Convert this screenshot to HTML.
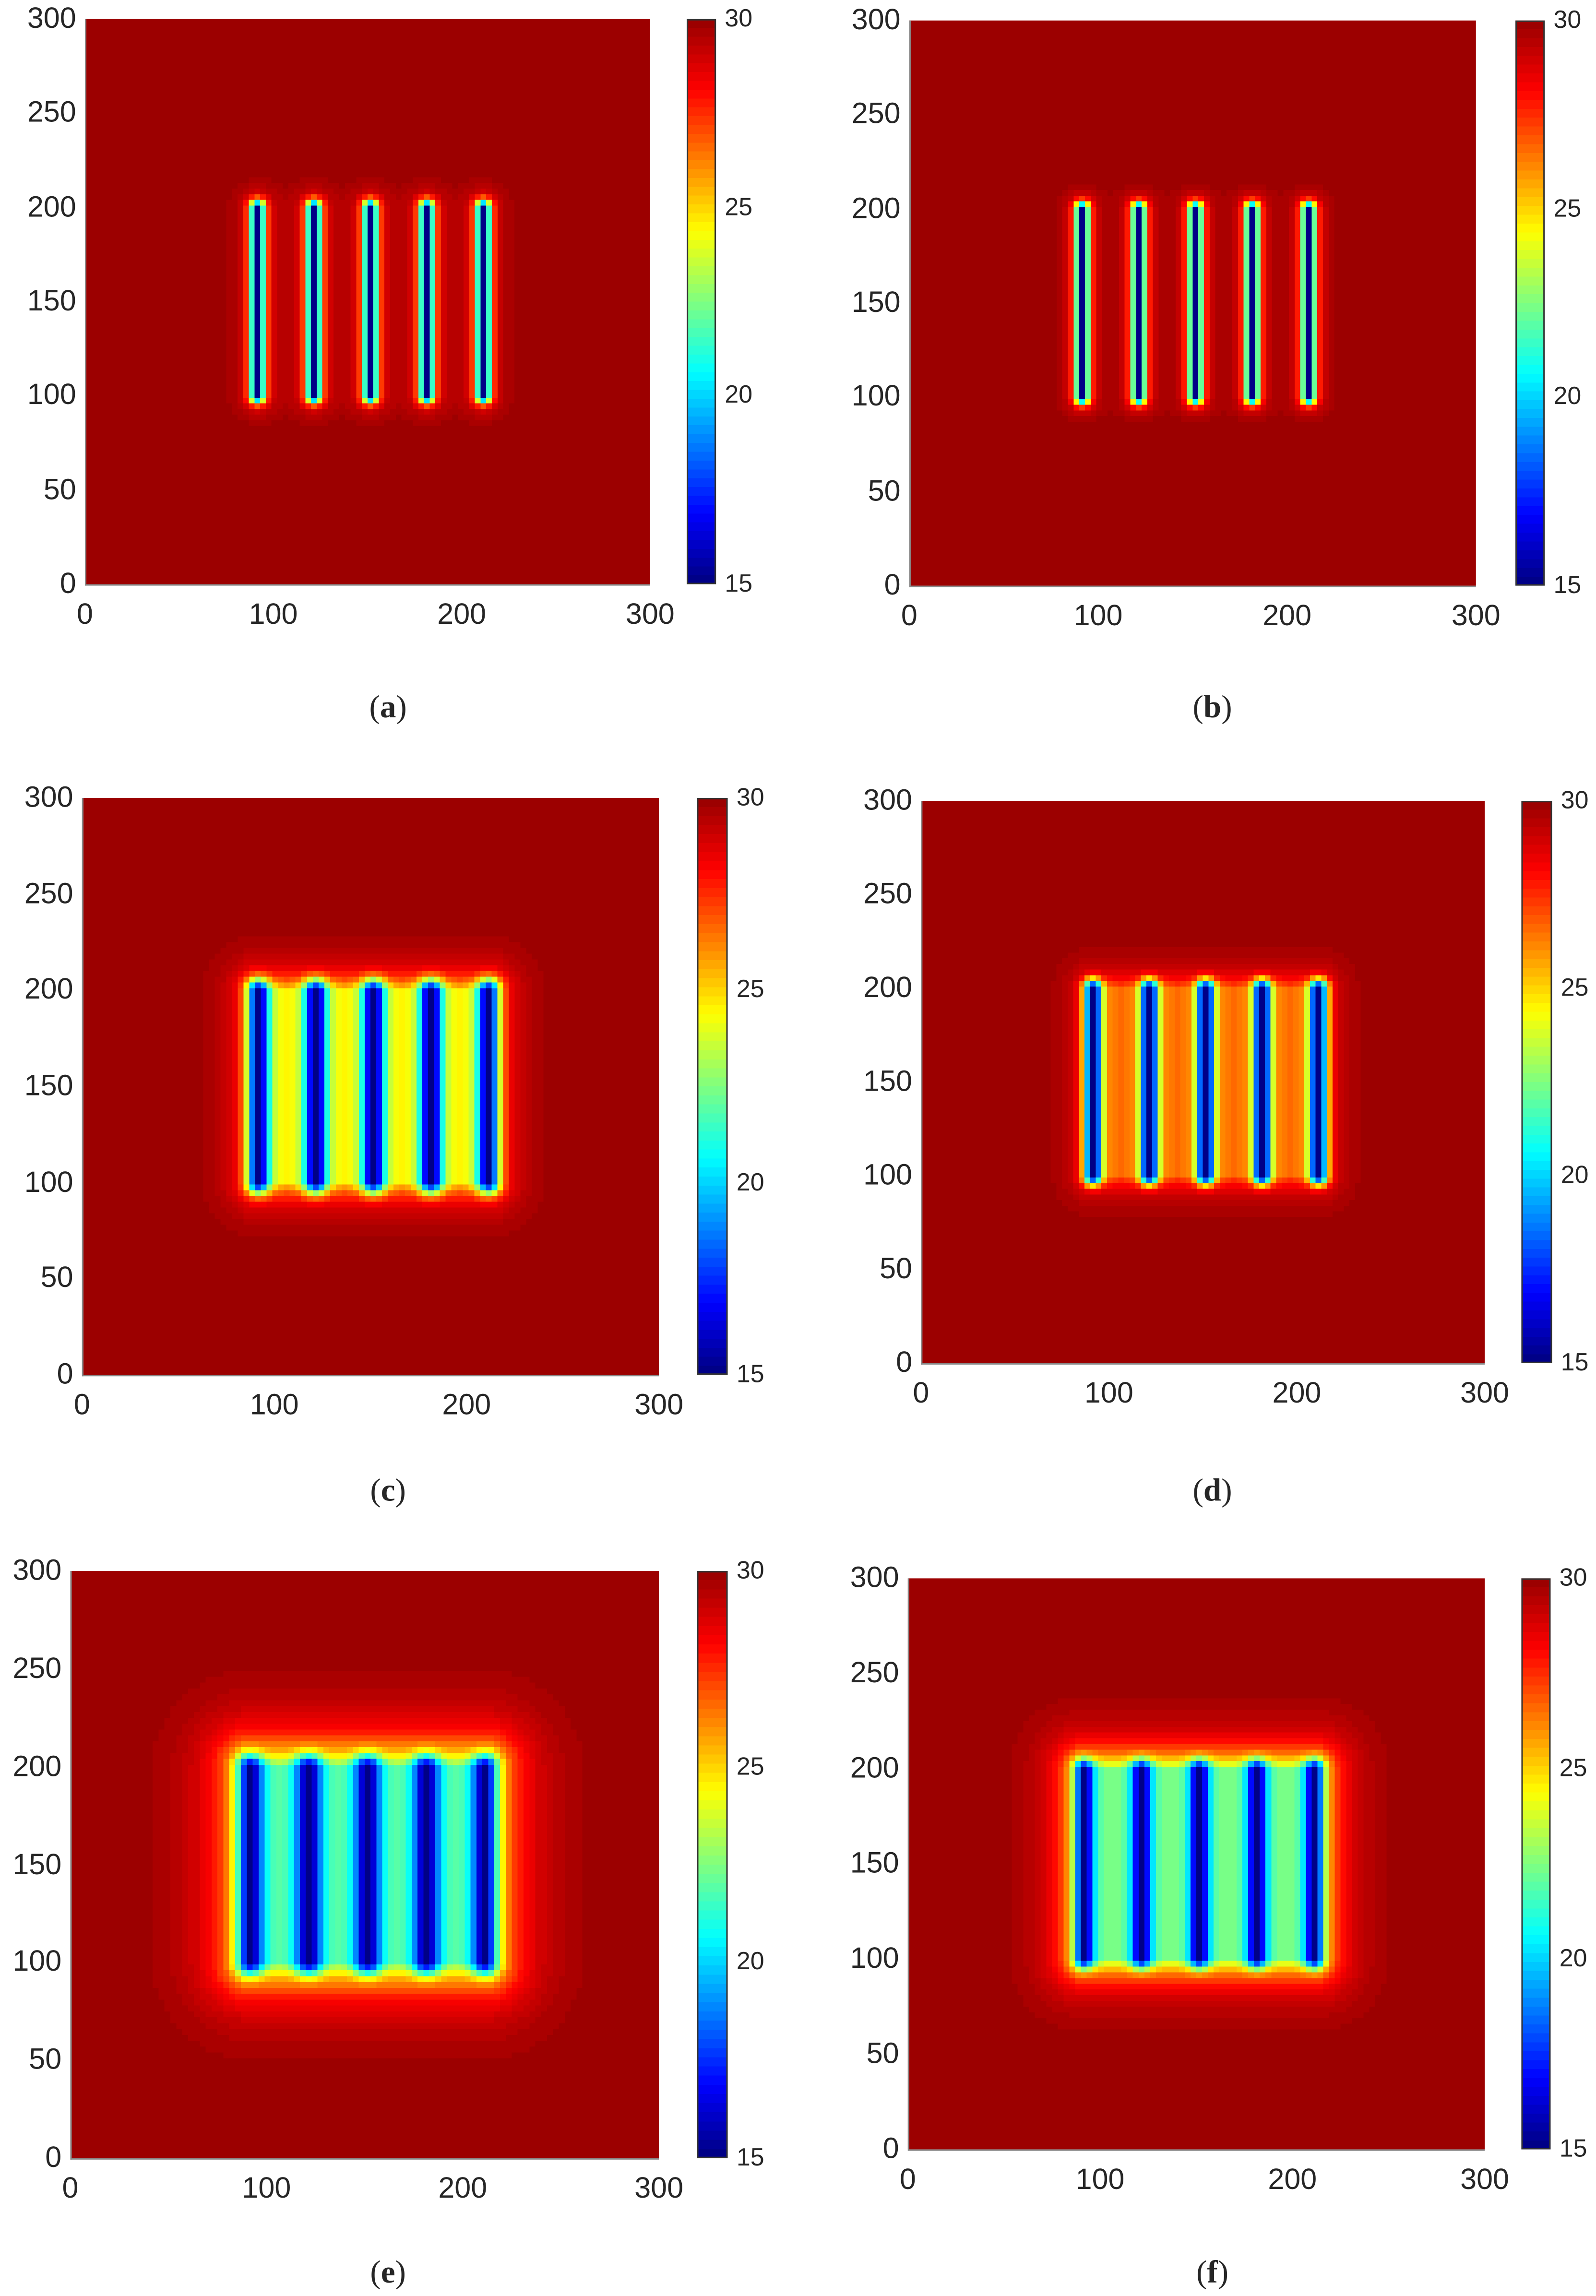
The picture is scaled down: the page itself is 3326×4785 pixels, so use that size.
<!DOCTYPE html>
<html><head><meta charset="utf-8">
<style>
html,body{margin:0;padding:0;background:#fff;}
body{width:3326px;height:4783px;overflow:hidden;position:relative;}
#wrap{position:absolute;left:0;top:0;width:1090px;height:1568px;transform:scale(3.05138);transform-origin:0 0;font-family:"Liberation Sans",Arial,sans-serif;color:#262626;}
canvas{position:absolute;image-rendering:pixelated;image-rendering:crisp-edges;}
.t{position:absolute;font-size:20px;line-height:20px;white-space:nowrap;}
.cb{position:absolute;font-size:17px;line-height:17px;white-space:nowrap;}
.cap{position:absolute;font-family:"Liberation Serif",serif;font-size:22px;line-height:22px;transform:translateX(-50%);}
.ax{position:absolute;border-left:1px solid #888;border-bottom:1px solid #888;box-sizing:border-box;pointer-events:none;}
.cbb{position:absolute;border:1px solid #333;box-sizing:border-box;pointer-events:none;}
</style></head>
<body>
<div id="wrap"></div>
<script>
// ---- data ----
const sourceX = [90, 120, 150, 180, 210];      // line source x positions
const sourceY = [100, 200];                    // line source y extent
const panelIds = ['a','b','c','d','e','f'];
const coreDepth = [10, 10, 9.5, 11.5, 7, 7.5];       // drop from each line core
const coreWidth = [4, 3.8, 6, 5, 6.8, 5.5];          // core gaussian width
const haloDepth = [5, 5, 0, 0, 0, 0];                // per-line halo drop
const haloWidth = [5, 4.5, 1, 1, 1, 1];              // per-line halo decay
const blockDepth = [0, 0, 5.5, 3.5, 8, 7.5];         // drop over source block
const blockWidth = [4, 4, 9, 8, 14, 11];             // block halo decay
const baseValue = 30;
const cRange = [15, 30];
const axisTicks = [0, 50, 100, 150, 200, 250, 300];
const xTickLabels = [0, 100, 200, 300];
const cbTicks = [15, 20, 25, 30];
const gridN = 100;
const domain = 300;
// layout (figure units)
const layout = [
 {x0:58,x1:444,y0:13,y1:399,c0:469,c1:489,lx:265,ly:483},
 {x0:621,x1:1008,y0:14,y1:400,c0:1035,c1:1055,lx:828,ly:483},
 {x0:56,x1:450,y0:545,y1:939,c0:476,c1:497,lx:265,ly:1018},
 {x0:629,x1:1014,y0:547,y1:931,c0:1039,c1:1060,lx:828,ly:1018},
 {x0:48,x1:450,y0:1073,y1:1474,c0:476,c1:497,lx:265,ly:1552},
 {x0:620,x1:1014,y0:1078,y1:1468,c0:1039,c1:1059,lx:828,ly:1552}
];

function jet(t){
  const n=64; let k=Math.max(0,Math.min(n-1,Math.floor(t*n))); let v=(k+0.5)/n;
  const f=x=>Math.max(0,Math.min(1,x));
  let r=f(Math.min(4*v-1.5,-4*v+4.5));
  if(v>0.875) r=1-(v-0.875)*3.3;
  const g=f(Math.min(4*v-0.5,-4*v+3.5)), b=f(Math.min(4*v+0.5,-4*v+2.5));
  return [Math.round(r*255),Math.round(g*255),Math.round(b*255)];
}
function field(x,y,i){
  let s=0;
  const cy=Math.max(sourceY[0],Math.min(sourceY[1],y));
  for(const sx of sourceX){
    const d=Math.hypot(x-sx,y-cy);
    s+=coreDepth[i]*Math.exp(-Math.pow(d/coreWidth[i],2));
    s+=haloDepth[i]*Math.exp(-d/haloWidth[i]);
  }
  if(blockDepth[i]>0){
    const xmin=sourceX[0], xmax=sourceX[sourceX.length-1];
    const dx=Math.max(0,xmin-x,x-xmax), dy=Math.max(0,sourceY[0]-y,y-sourceY[1]);
    s+=blockDepth[i]*Math.exp(-Math.hypot(dx,dy)/blockWidth[i]);
  }
  return Math.max(cRange[0],baseValue-s);
}
const wrap=document.getElementById('wrap');
layout.forEach((L,i)=>{
  const pw=L.x1-L.x0, ph=L.y1-L.y0;
  const xs=v=>L.x0+v/domain*pw, ys=v=>L.y1-v/domain*ph;
  const cv=document.createElement('canvas');
  
  
  cv.width=gridN;cv.height=gridN;
  cv.style.left=L.x0+'px';cv.style.top=L.y0+'px';cv.style.width=pw+'px';cv.style.height=ph+'px';
  const ctx=cv.getContext('2d');const img=ctx.createImageData(gridN,gridN);
  for(let r=0;r<gridN;r++)for(let c=0;c<gridN;c++){
    const x=c*domain/gridN, y=domain-(r+0.5)*domain/gridN;
    const v=field(x,y,i);
    const col=jet((v-cRange[0])/(cRange[1]-cRange[0]));
    const o=(r*gridN+c)*4;img.data[o]=col[0];img.data[o+1]=col[1];img.data[o+2]=col[2];img.data[o+3]=255;
  }
  ctx.putImageData(img,0,0);wrap.appendChild(cv);
  const ax=document.createElement('div');ax.className='ax';
  
  
  ax.style.cssText+=`left:${L.x0}px;top:${L.y0}px;width:${pw}px;height:${ph+1}px;`;wrap.appendChild(ax);
  axisTicks.forEach(t=>{
    const d=document.createElement('div');d.className='t';
    
    
    d.textContent=t;d.style.right=(1090-L.x0+6)+'px';d.style.top=(ys(t)-10)+'px';wrap.appendChild(d);
  });
  xTickLabels.forEach(t=>{
    const d=document.createElement('div');d.className='t';
    
    
    d.textContent=t;d.style.left=xs(t)+'px';d.style.top=(L.y1+11)+'px';d.style.transform='translateX(-50%)';wrap.appendChild(d);
  });
  const cb=document.createElement('canvas');
  
  
  cb.width=1;cb.height=64;const cc=cb.getContext('2d');
  for(let k=0;k<64;k++){const col=jet((63-k+0.5)/64);cc.fillStyle=`rgb(${col})`;cc.fillRect(0,k,1,1);}
  cb.style.left=L.c0+'px';cb.style.top=L.y0+'px';cb.style.width=(L.c1-L.c0)+'px';cb.style.height=ph+'px';wrap.appendChild(cb);
  const cbb=document.createElement('div');cbb.className='cbb';
  
  
  cbb.style.cssText+=`left:${L.c0}px;top:${L.y0}px;width:${L.c1-L.c0}px;height:${ph}px;`;wrap.appendChild(cbb);
  cbTicks.forEach(t=>{
    const yy=L.y1-(t-cRange[0])/(cRange[1]-cRange[0])*ph;
    const d=document.createElement('div');d.className='cb';
    
    
    d.textContent=t;d.style.left=(L.c1+6)+'px';d.style.top=(yy-9)+'px';wrap.appendChild(d);
  });
  const cap=document.createElement('div');cap.className='cap';
  
  
  cap.innerHTML='(<b>'+panelIds[i]+'</b>)';cap.style.left=L.lx+'px';cap.style.top=(L.ly-11)+'px';wrap.appendChild(cap);
});
</script>
</body></html>
